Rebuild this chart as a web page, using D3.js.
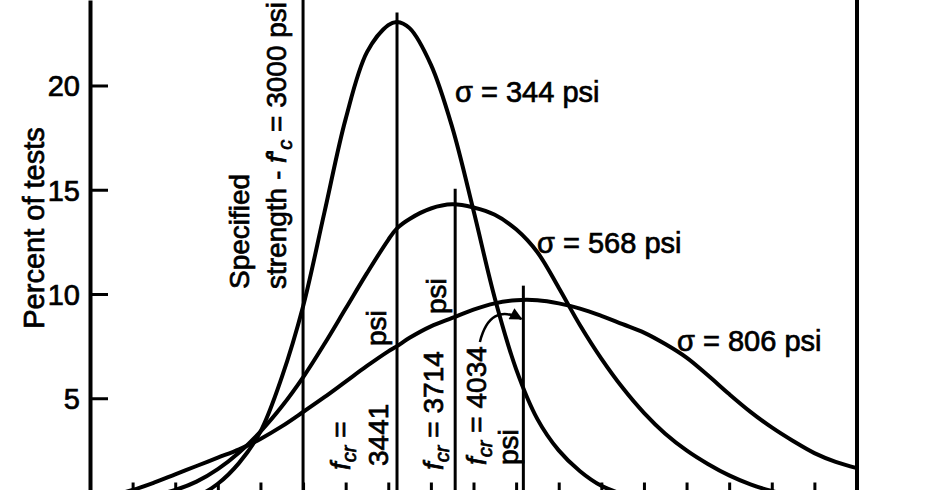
<!DOCTYPE html>
<html><head><meta charset="utf-8">
<script src="https://cdn.jsdelivr.net/npm/d3@7"></script>
<style>
html,body{margin:0;padding:0;background:#fff;}
svg{display:block;}
text{font-family:"Liberation Sans",Arial,sans-serif;fill:#000;stroke:#000;stroke-width:0.7;}
</style></head><body>
<svg id="chart" width="932" height="490"></svg>
<script>
// ---- data ----
const psi    = [2000,2100,2200,2300,2400,2500,2600,2700,2800,2900,3000,3100,3200,3300,3400,3441,3500,3600,3700,3800,3900,4000,4100,4200,4300,4400,4500,4600,4700,4800,4900,5000,5100,5200,5300,5400,5500,5600];
const pct344 = [null,null,null,null,0.1,0.3,0.9,1.9,3.4,6.0,9.4,13.9,18.4,21.6,22.9,23.05,22.75,21.0,18.0,14.0,9.8,6.4,4.0,2.5,1.5,0.8,0.4,null,null,null,null,null,null,null,null,null,null,null];
const pct568 = [null,null,null,0.35,0.6,1.0,1.6,2.4,3.4,4.6,6.0,7.6,9.3,11.0,12.6,13.15,13.6,14.1,14.3,14.15,13.8,13.1,12.0,10.3,8.5,6.9,5.5,4.3,3.3,2.5,1.85,1.3,0.87,0.55,0.33,null,null,null];
const pct806 = [0.2,0.35,0.6,0.95,1.35,1.75,2.15,2.55,3.05,3.65,4.34,5.05,5.8,6.55,7.25,7.5,7.9,8.45,8.85,9.25,9.55,9.7,9.7,9.55,9.3,8.95,8.55,8.15,7.6,6.95,6.1,5.2,4.35,3.6,2.95,2.37,1.95,1.65];
const sigmaLabels = ["σ = 344 psi", "σ = 568 psi", "σ = 806 psi"];
const yTicks = [5, 10, 15, 20];
const xTicks = [2200,2400,2600,2800,3000,3200,3400,3600,3800,4000,4200,4400,4600,4800,5000,5200,5400];
const markerPsi = [3000, 3441, 3714, 4034];
const markerTop = [24.1, 23.5, 15.05, 10.4];
const yLabel = "Percent of tests";

// ---- layout ----
const svg = d3.select("#chart");
const x = d3.scaleLinear().domain([2000, 5600]).range([90, 857]);
const y = d3.scaleLinear().domain([0, 24.1]).range([502.5, 0]);

// left axis with inward ticks
const gy = svg.append("g").attr("transform", `translate(${x(2000)},0)`)
  .call(d3.axisLeft(y).tickValues(yTicks).tickSizeInner(-18).tickSizeOuter(0).tickPadding(10));
gy.select(".domain").attr("stroke", "#000").attr("stroke-width", 4);
gy.selectAll(".tick line").attr("stroke", "#000").attr("stroke-width", 3);
gy.selectAll(".tick text").attr("font-size", 29).attr("font-family", null).attr("dy", "0.36em");

// right frame line
svg.append("line").attr("x1", x(5600)).attr("x2", x(5600)).attr("y1", y(24.1)).attr("y2", y(0))
  .attr("stroke", "#000").attr("stroke-width", 4);

// bottom axis ticks (labels off-picture)
const gx = svg.append("g").attr("transform", `translate(0,${y(0)})`)
  .call(d3.axisBottom(x).tickValues(xTicks).tickSizeInner(-20).tickSizeOuter(0).tickFormat(""));
gx.select(".domain").attr("stroke", "#000").attr("stroke-width", 4);
gx.selectAll(".tick line").attr("stroke", "#000").attr("stroke-width", 3);

// marker lines
svg.selectAll("line.marker").data(markerPsi).join("line").attr("class", "marker")
  .attr("x1", d => x(d)).attr("x2", d => x(d))
  .attr("y1", (d, i) => y(markerTop[i])).attr("y2", y(0))
  .attr("stroke", "#000").attr("stroke-width", 3);

// curves
const line = d3.line().defined(d => d[1] != null).x(d => x(d[0])).y(d => y(d[1]))
  .curve(d3.curveCatmullRom.alpha(0.5));
[pct344, pct568, pct806].forEach(s => {
  svg.append("path").datum(psi.map((p, i) => [p, s[i]]))
    .attr("d", line).attr("fill", "none").attr("stroke", "#000")
    .attr("stroke-width", 4).attr("stroke-linejoin", "round");
});

// sigma labels
const sigPos = [[455, 102], [537, 253], [677, 351]];
sigmaLabels.forEach((t, i) => {
  svg.append("text").attr("x", sigPos[i][0]).attr("y", sigPos[i][1])
    .attr("font-size", 29).text(t);
});

// y label
svg.append("text").attr("transform", "translate(44,228) rotate(-90)")
  .attr("text-anchor", "middle").attr("font-size", 29).text(yLabel);

// rotated annotation helper
function rot(px, py, parts, size) {
  const t = svg.append("text").attr("transform", `translate(${px},${py}) rotate(-90)`)
    .attr("font-size", size || 28);
  parts.forEach(p => {
    const s = t.append("tspan").text(p.t);
    if (p.it) s.attr("font-style", "italic");
    if (p.sub) s.attr("font-size", (size || 28) * 0.72).attr("dy", 6);
    if (p.up) s.attr("dy", -6);
  });
  return t;
}
rot(249, 289, [{t: "Specified"}]);
rot(286, 289, [{t: "strength - "}, {t: "f", it: true}, {t: "'"}, {t: "c", it: true, sub: true}, {t: " = 3000 psi", up: true}]);
rot(350, 470, [{t: "f", it: true}, {t: "cr", it: true, sub: true}, {t: " =", up: true}]);
rot(388, 466, [{t: "3441"}]);
rot(386, 346, [{t: "psi"}]);
rot(443, 470, [{t: "f", it: true}, {t: "cr", it: true, sub: true}, {t: " = 3714", up: true}]);
rot(446, 314, [{t: "psi"}]);
rot(486, 465, [{t: "f", it: true}, {t: "cr", it: true, sub: true}, {t: " = 4034", up: true}]);
rot(518, 465, [{t: "psi"}]);

// arrow to the 4034 line
svg.append("defs").append("marker").attr("id", "ah").attr("viewBox", "0 0 10 10")
  .attr("refX", 9).attr("refY", 5).attr("markerWidth", 6.5).attr("markerHeight", 5)
  .attr("orient", "auto").attr("markerUnits", "strokeWidth")
  .append("path").attr("d", "M0,0 L10,5 L0,10 Z").attr("fill", "#000");
const a0 = [x(3830), y(7.7)], a1 = [x(3877), y(9.6)], a2 = [x(4025), y(8.8)];
svg.append("path").attr("d", `M${a0[0]},${a0[1]} Q${a1[0]},${a1[1]} ${a2[0]},${a2[1]}`)
  .attr("fill", "none").attr("stroke", "#000").attr("stroke-width", 2.5).attr("marker-end", "url(#ah)");
</script>
</body></html>
